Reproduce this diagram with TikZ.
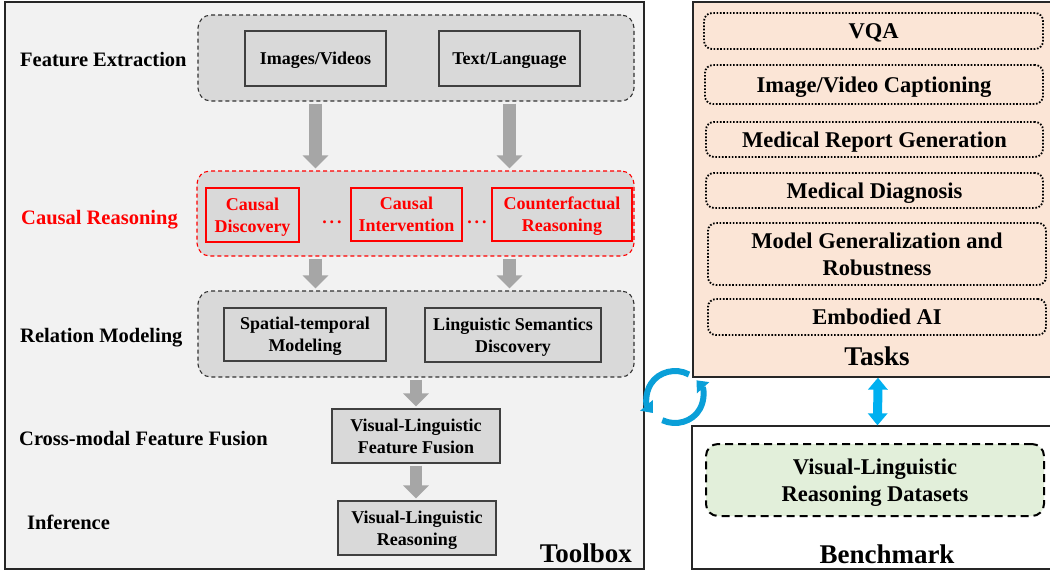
\documentclass[tikz,border=0pt]{standalone}
\usepackage{fontspec}
\setmainfont{Liberation Serif}
\usepackage{tikz}
\usetikzlibrary{arrows.meta}
\definecolor{boxgray}{HTML}{F2F2F2}
\definecolor{grpgray}{HTML}{D9D9D9}
\definecolor{arrgray}{HTML}{A6A6A6}
\definecolor{taskpeach}{HTML}{FBE5D6}
\definecolor{setgreen}{HTML}{E2EFDA}
\definecolor{linkblue}{HTML}{00B0F0}
\definecolor{cycblue}{HTML}{0A9FD8}
\definecolor{edgegray}{HTML}{404040}

\begin{document}
\begin{tikzpicture}[x=1pt,y=-1pt,
  panel/.style={draw=black!85,line width=1.3pt,inner sep=0pt},
  grp/.style={draw=black!80,fill=grpgray,dash pattern=on 4pt off 3pt,line width=1.1pt,rounded corners=13pt,inner sep=0pt},
  tool/.style={draw=edgegray,fill=grpgray,line width=1.3pt,inner sep=0pt,text depth=0pt,align=center,font=\fontsize{18}{22}\selectfont\bfseries},
  causal/.style={tool,draw=red,text=red},
  task/.style={draw=black,dash pattern=on 1.6pt off 1.7pt,line width=1.8pt,rounded corners=8pt,inner sep=0pt,text depth=0pt,align=center,font=\fontsize{22.5}{27}\selectfont\bfseries},
  stage/.style={anchor=base west,inner sep=0pt,font=\fontsize{20.5}{24}\selectfont\bfseries},
  bigtitle/.style={inner sep=0pt,font=\fontsize{27}{30}\selectfont\bfseries},
  flow/.style={draw=arrgray,line width=12.5pt,-{Triangle[width=25pt,length=13pt]},shorten <=2pt,shorten >=2pt},
  link/.style={draw=linkblue,line width=9pt,{Triangle[width=19pt,length=12pt]}-{Triangle[width=19pt,length=12pt]}},
  turn/.style={draw=cycblue,line width=6pt,-{Triangle[width=16pt,length=10pt]}}]

\useasboundingbox (0,0) rectangle (1050,571);

\node[panel,fill=boxgray,minimum width=639pt,minimum height=567pt] (toolbox) at (324.5,285.5) {};
\node[panel,fill=taskpeach,minimum width=362pt,minimum height=375pt] (tasks) at (874,189.5) {};
\node[panel,fill=white,minimum width=363pt,minimum height=143pt] (bench) at (873.5,497.5) {};

\node[grp,minimum width=436pt,minimum height=86pt] (fe) at (416,58) {};
\node[grp,draw=red,minimum width=437pt,minimum height=85pt] (cr) at (415.5,213.5) {};
\node[grp,minimum width=436pt,minimum height=86pt] (rm) at (416,334) {};

\node[tool,minimum width=141pt,minimum height=55pt] (img) at (315.5,58.5) {Images/Videos};
\node[tool,minimum width=141pt,minimum height=55pt] (txt) at (509.5,58.5) {Text/Language};

\node[causal,minimum width=93pt,minimum height=54pt] (disc) at (252.5,215) {Causal\\Discovery};
\node[causal,minimum width=111pt,minimum height=53pt] (intv) at (406.5,214.5) {Causal\\Intervention};
\node[causal,minimum width=140pt,minimum height=53pt] (cf) at (562,214.5) {Counterfactual\\Reasoning};
\node[text=red,inner sep=0pt,font=\fontsize{18}{22}\selectfont\bfseries] (dots1) at (332,222) {.\,.\,.};
\node[text=red,inner sep=0pt,font=\fontsize{18}{22}\selectfont\bfseries] (dots2) at (477,222) {.\,.\,.};

\node[tool,minimum width=162pt,minimum height=53pt] (st) at (305,334.5) {Spatial-temporal\\Modeling};
\node[tool,minimum width=176pt,minimum height=54pt] (ls) at (513,335) {Linguistic Semantics\\Discovery};
\node[tool,minimum width=168pt,minimum height=54pt] (fuse) at (416,436) {Visual-Linguistic\\Feature Fusion};
\node[tool,minimum width=158pt,minimum height=54pt] (vlr) at (417,528) {Visual-Linguistic\\Reasoning};

\node[stage] (l1) at (20,66) {Feature Extraction};
\node[stage,text=red] (l2) at (21,224) {Causal Reasoning};
\node[stage] (l3) at (20,342) {Relation Modeling};
\node[stage] (l4) at (19,445) {Cross-modal Feature Fusion};
\node[stage] (l5) at (27,529) {Inference};
\node[bigtitle,anchor=base east] (l6) at (632,562) {Toolbox};

\node[task,minimum width=339pt,minimum height=36pt] (vqa) at (873.5,31) {VQA};
\node[task,minimum width=338pt,minimum height=39pt] (cap) at (874,84.5) {Image/Video Captioning};
\node[task,minimum width=337pt,minimum height=35pt] (mrg) at (874.5,139.5) {Medical Report Generation};
\node[task,minimum width=337pt,minimum height=35pt] (md) at (874.5,190.5) {Medical Diagnosis};
\node[task,minimum width=338pt,minimum height=62pt] (mgr) at (877,254) {Model Generalization and\\Robustness};
\node[task,minimum width=338pt,minimum height=36pt] (emb) at (877,317) {Embodied AI};
\node[bigtitle,anchor=base] (tlab) at (877,365) {Tasks};

\node[task,dash pattern=on 8pt off 5pt,line width=2pt,fill=setgreen,rounded corners=12pt,minimum width=338pt,minimum height=72pt] (vlds) at (875,480) {Visual-Linguistic\\Reasoning Datasets};
\node[bigtitle,anchor=base] (blab) at (887,563) {Benchmark};

\draw[flow] (fe.south -| img) -- (cr.north -| img);
\draw[flow] (fe.south -| txt) -- (cr.north -| txt);
\draw[flow] (cr.south -| img) -- (rm.north -| img);
\draw[flow] (cr.south -| txt) -- (rm.north -| txt);
\draw[flow] (rm.south -| fuse) -- (fuse.north);
\draw[flow] (fuse.south) -- (fuse.south |- vlr.north);

\draw[link] ([xshift=4pt]tasks.south) -- ([xshift=4pt]bench.north);

\begin{scope}[shift={(675,397)},x=1pt,y=1pt]
\draw[turn] ({28*cos(60)},{26*sin(60)}) arc[start angle=60,end angle=218,x radius=28pt,y radius=26pt];
\draw[turn] ({28*cos(243)},{26*sin(243)}) arc[start angle=243,end angle=400,x radius=28pt,y radius=26pt];
\end{scope}

\end{tikzpicture}
\end{document}
